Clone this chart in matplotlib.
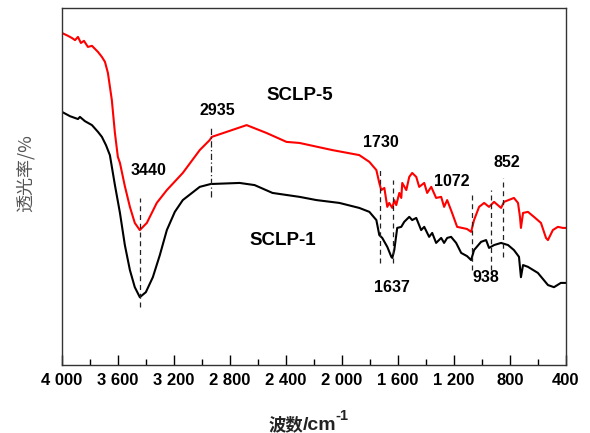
import matplotlib
matplotlib.use("Agg")
import matplotlib.pyplot as plt
from matplotlib.ticker import MultipleLocator, FuncFormatter

plt.rcParams['font.family'] = ['Liberation Sans', 'DejaVu Sans']

# SCLP-5 (red) spectrum
wn5 = [4000, 3957, 3929, 3907, 3886, 3865, 3843, 3815, 3786, 3743, 3715, 3693, 3672,
       3644, 3622, 3601, 3586, 3551, 3515, 3480, 3444, 3394, 3323, 3251, 3137, 3016,
       2945, 2930, 2824, 2681, 2539, 2396, 2303, 2068, 1876, 1804, 1754, 1733, 1719,
       1697, 1676, 1662, 1640, 1626, 1612, 1590, 1576, 1569, 1540, 1519, 1498, 1469,
       1448, 1412, 1391, 1362, 1327, 1291, 1270, 1248, 1213, 1177, 1141, 1106, 1077,
       1056, 1020, 984, 949, 913, 863, 842, 771, 742, 728, 721, 706, 671, 628, 578,
       542, 528, 493, 457, 421, 400]
t5 = [93.0, 92.2, 91.6, 91.0, 91.9, 90.2, 90.8, 89.1, 89.4, 87.7, 86.3, 84.9, 81.8,
      74.2, 65.0, 58.3, 56.6, 50.1, 44.3, 39.8, 37.8, 39.8, 45.4, 49.0, 53.8, 60.2,
      63.0, 63.9, 65.3, 67.2, 65.0, 62.5, 62.2, 60.2, 58.8, 56.9, 54.6, 51.0, 49.0,
      49.6, 44.3, 45.4, 44.0, 46.2, 44.8, 48.2, 46.8, 51.0, 49.0, 52.7, 53.8, 52.7,
      49.9, 51.0, 48.2, 49.9, 46.8, 47.1, 44.3, 46.2, 42.6, 38.7, 38.4, 38.1, 37.3,
      40.6, 44.3, 45.4, 44.3, 45.7, 44.0, 45.7, 46.8, 45.4, 41.5, 38.4, 42.6, 42.9,
      41.5, 39.8, 35.6, 35.0, 37.8, 38.7, 38.4, 38.4]

# SCLP-1 (black) spectrum
wn1 = [4000, 3943, 3886, 3872, 3836, 3786, 3743, 3715, 3686, 3658, 3622, 3586, 3551,
       3515, 3480, 3444, 3401, 3351, 3301, 3251, 3194, 3137, 3016, 2938, 2731, 2624,
       2496, 2303, 2182, 2018, 1876, 1804, 1754, 1733, 1712, 1676, 1647, 1640, 1626,
       1605, 1576, 1555, 1519, 1498, 1469, 1434, 1412, 1377, 1355, 1327, 1291, 1270,
       1248, 1220, 1184, 1148, 1106, 1077, 1056, 1006, 970, 949, 913, 863, 813, 771,
       735, 721, 706, 671, 600, 528, 485, 436, 400]
t1 = [70.9, 69.7, 68.9, 69.5, 68.3, 67.2, 65.3, 63.9, 61.6, 58.8, 50.4, 42.6, 33.6,
      26.6, 21.8, 19.0, 20.4, 24.6, 30.8, 37.8, 42.9, 46.2, 49.9, 50.7, 51.0, 50.4,
      48.2, 47.1, 46.2, 45.4, 44.0, 42.9, 40.6, 36.4, 35.6, 33.1, 30.3, 30.0, 32.2,
      38.4, 38.7, 40.1, 41.5, 40.6, 41.2, 37.8, 38.7, 35.9, 37.0, 34.2, 35.6, 34.2,
      35.6, 35.9, 34.2, 31.4, 30.5, 29.4, 32.2, 34.5, 35.0, 32.8, 33.6, 34.2, 33.6,
      32.2, 30.3, 24.6, 28.0, 27.5, 25.8, 22.4, 21.8, 23.0, 23.0]

# peak markers: position, line top/bottom, label position
peaks = ['3440', '2935', '1730', '1637', '1072', '938', '852']
peak_wn = [3440, 2935, 1730, 1637, 1072, 938, 852]
peak_top = [46.8, 66.7, 55.5, 51.8, 48.2, 49.0, 52.4]
peak_bot = [16.2, 47.1, 28.6, 28.6, 26.6, 26.6, 30.3]
peak_lab_x = [3380, 2888, 1719, 1640, 1213, 970, 820]
peak_lab_y = [54.6, 71.4, 62.2, 21.6, 51.3, 24.4, 56.6]
peak_ls = ['--', '-.', '--', '--', '--', '--', '--']

W, H = 590, 433
fig = plt.figure(figsize=(5.9, 4.33), dpi=100)
ax = fig.add_axes([0.1051, 0.157, 0.854, 0.8245])

ax.plot(wn5, t5, color='#ff0000', lw=1.5)
ax.plot(wn1, t1, color='black', lw=1.5)

for name, w, top, bot, lx, ly, ls in zip(peaks, peak_wn, peak_top, peak_bot,
                                          peak_lab_x, peak_lab_y, peak_ls):
    ax.plot([w, w], [bot, top], color='#222222', lw=0.9,
            dashes=(4, 3) if ls == '--' else (5, 2, 1, 2))
    ax.text(lx, ly, name, fontsize=11.5, fontweight='bold', ha='center', va='center')

ax.text(2303, 75.6, 'SCLP-5', fontsize=13.5, fontweight='bold', ha='center', va='center')
ax.text(2424, 35.0, 'SCLP-1', fontsize=13.5, fontweight='bold', ha='center', va='center')

ax.set_xlim(4000, 400)
ax.set_ylim(0, 100)
ax.xaxis.set_major_locator(MultipleLocator(400))
ax.xaxis.set_minor_locator(MultipleLocator(200))
ax.xaxis.set_major_formatter(FuncFormatter(
    lambda v, p: '{:,}'.format(int(round(v))).replace(',', ' ')))
ax.set_yticks([])
ax.tick_params(axis='x', which='major', direction='in', length=7, width=1,
               labelsize=12, pad=6)
ax.tick_params(axis='x', which='minor', direction='in', length=4, width=1)
for lab in ax.get_xticklabels():
    lab.set_fontweight('bold')
for s in ax.spines.values():
    s.set_linewidth(1.0)
    s.set_color('#333333')

# x label: CJK part + "/cm" + superscript "-1"
fig.text(303 / W, 1 - 430 / H, '波数', fontsize=12.5, fontweight='bold',
         family=['Noto Sans CJK SC', 'DejaVu Sans'], ha='right', va='baseline',
         color='#222222')
fig.text(303 / W, 1 - 430 / H, '/cm', fontsize=14, fontweight='bold',
         ha='left', va='baseline', color='#222222')
fig.text(335 / W, 1 - 420 / H, '-1', fontsize=10.5, fontweight='bold',
         ha='left', va='baseline', color='#222222')

fig.text(25 / W, 1 - 173 / H, '透光率/%', fontsize=13, color='#555555', rotation=90,
         family=['Noto Sans CJK SC', 'DejaVu Sans'], ha='center', va='center')

fig.savefig('out.png', dpi=100)
